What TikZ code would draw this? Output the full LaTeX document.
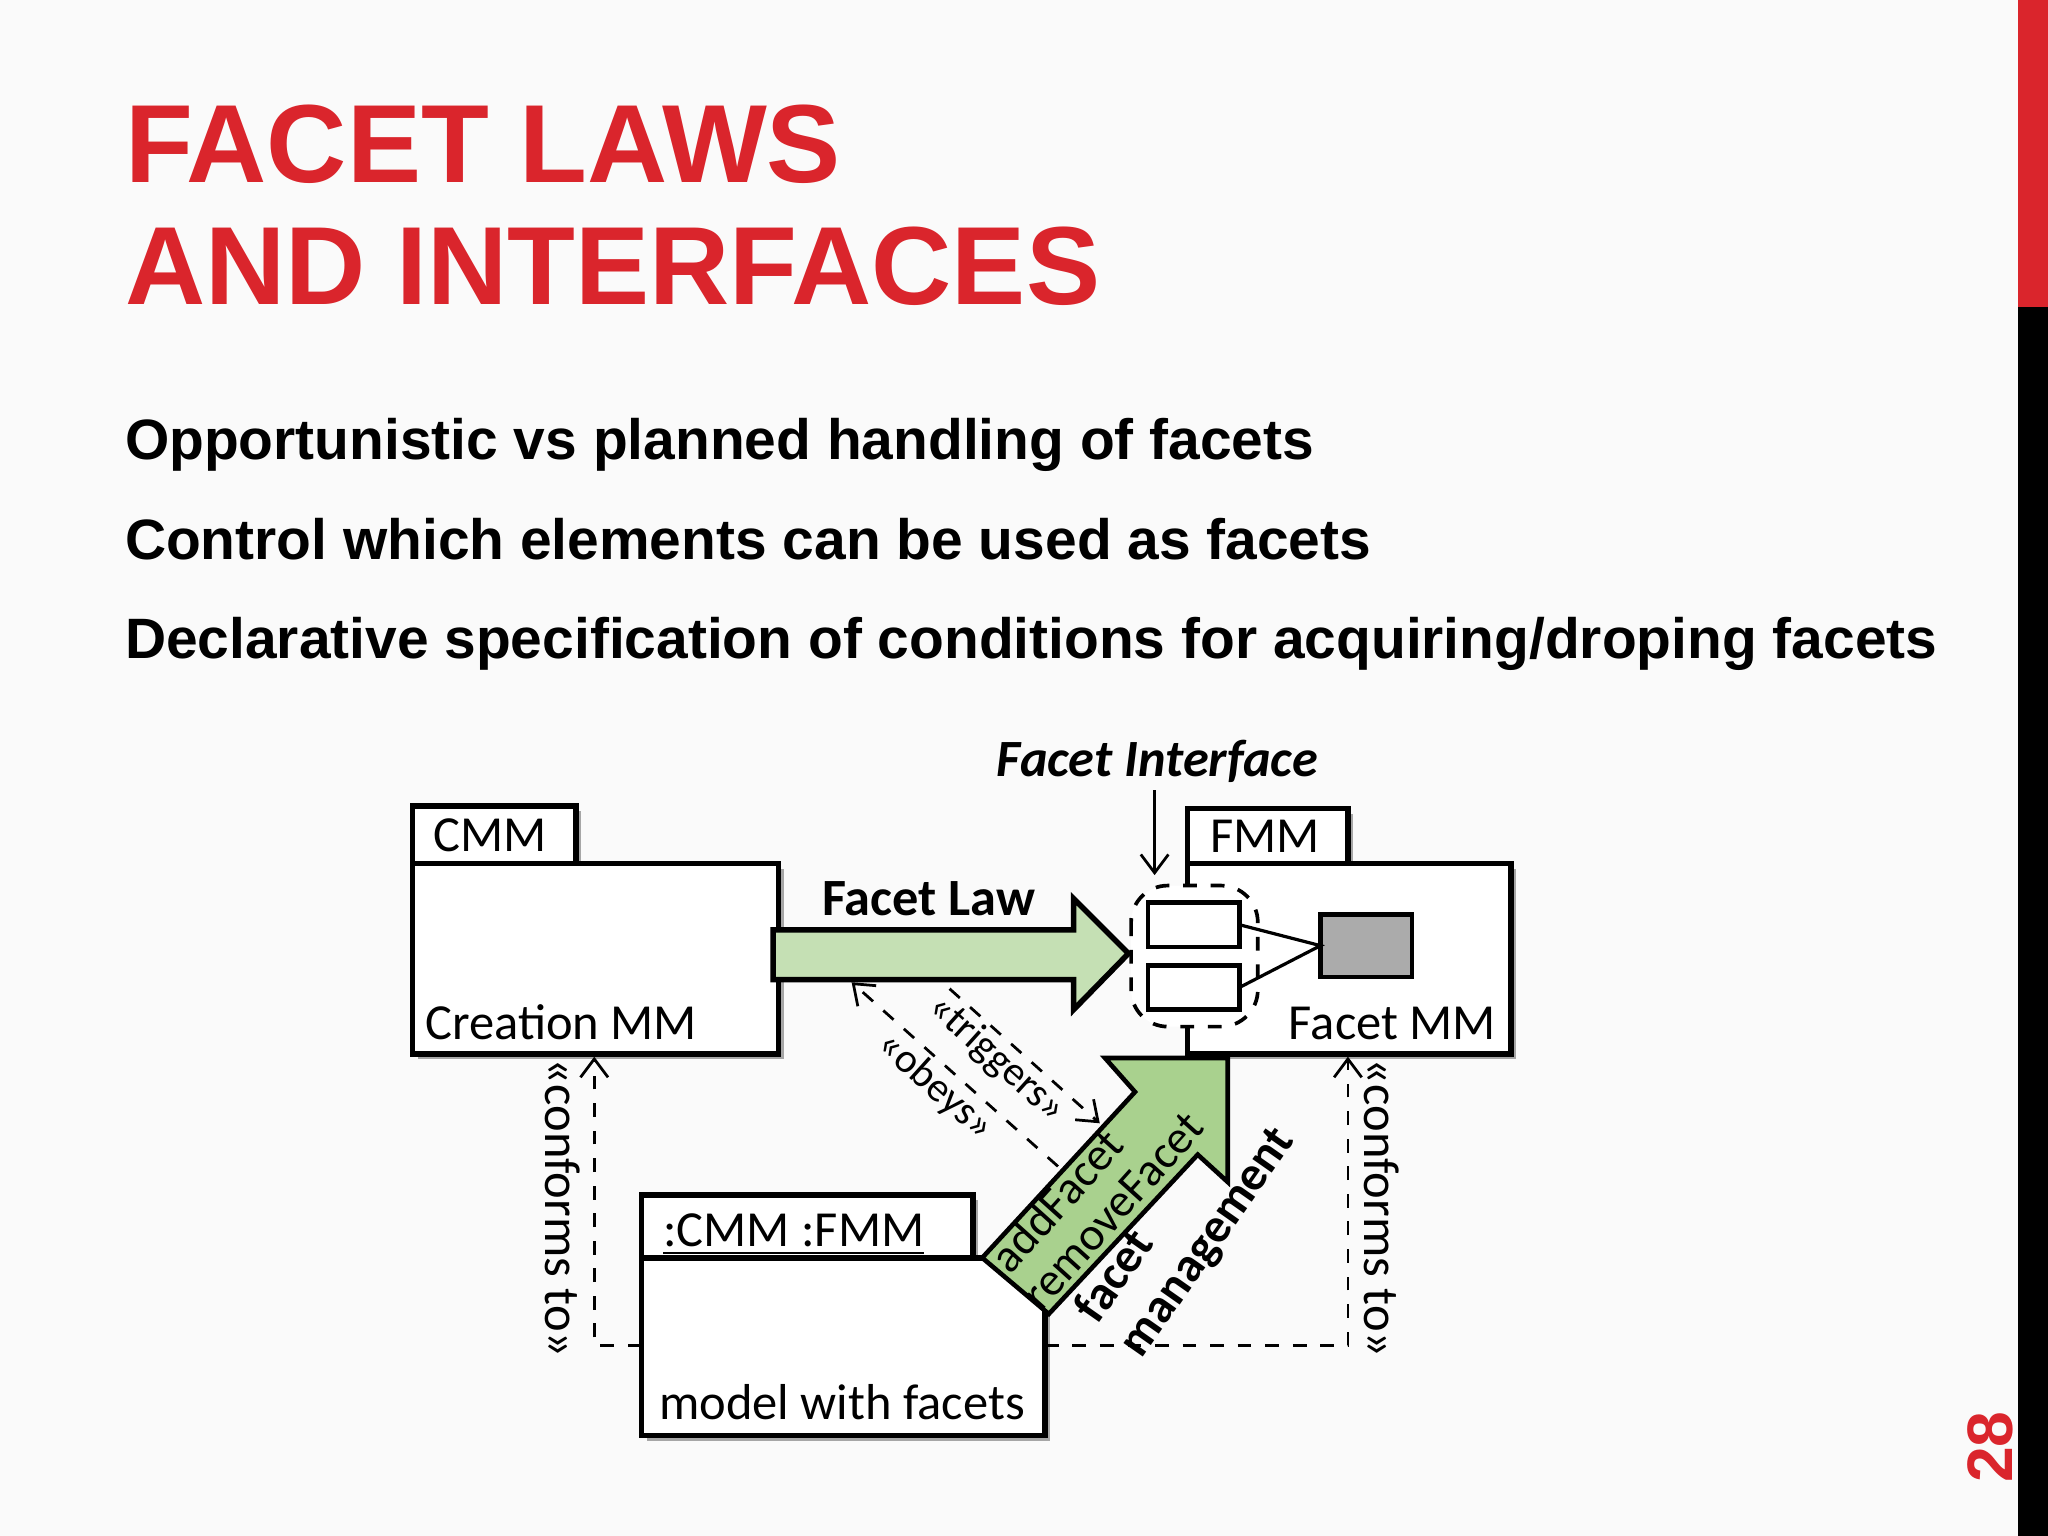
\documentclass[tikz,border=0pt]{standalone}
\usepackage{fontspec}
\setmainfont{Liberation Sans}
\newfontfamily\dia{Carlito}
\usetikzlibrary{arrows.meta}
\definecolor{tred}{RGB}{218,37,44}
\definecolor{lgreen}{RGB}{197,224,180}
\definecolor{dgreen}{RGB}{169,209,142}
\definecolor{bg}{RGB}{250,250,250}
\tikzset{
  box/.style={draw=black,line width=1.2pt,fill=white},
  shad/.style={fill=black!35,draw=none},
  dtxt/.style={font=\dia\fontsize{11pt}{13pt}\selectfont,inner sep=0pt},
  atxt/.style={font=\dia\fontsize{10.2pt}{12pt}\selectfont,inner sep=0pt},
  stxt/.style={font=\dia\fontsize{9pt}{11pt}\selectfont,inner sep=0pt},
  dline/.style={dashed,line width=0.6pt,-{Straight Barb[length=4pt,width=6pt]}},
  btxt/.style={font=\bfseries\fontsize{12.4pt}{15pt}\selectfont,inner sep=0pt,anchor=base west},
  ttxt/.style={text=tred,font=\bfseries\fontsize{24.2pt}{28pt}\selectfont,inner sep=0pt,anchor=base west},
}
\begin{document}
\begin{tikzpicture}[x=0.1mm,y=-0.1mm]
\fill[bg] (0,0) rectangle (1568,1176);
\useasboundingbox (0,0) rectangle (1568,1176);
\fill[tred] (1545,0) rectangle (1568,235);
\fill[black] (1545,235) rectangle (1568,1176);
\node[text=tred,rotate=90,font=\bfseries\fontsize{14pt}{16pt}\selectfont,inner sep=0pt] (pg) at (1524,1108) {28};
% title
\node[ttxt] (t1) at (95,140) {FACET LAWS};
\node[ttxt] (t2) at (95,233) {AND INTERFACES};
\node[btxt] (b1) at (95,352) {Opportunistic vs planned handling of facets};
\node[btxt] (b2) at (95,428) {Control which elements can be used as facets};
\node[btxt] (b3) at (95,504) {Declarative specification of conditions for acquiring/droping facets};
% CMM
\fill[shad] (320,665) rectangle (600,811);
\fill[shad] (320,621) rectangle (445,661);
\draw[box] (316,617) rectangle (441,661);
\draw[box] (316,661) rectangle (596,807);
\node[dtxt,anchor=base west] (cmm) at (331,652) {CMM};
\node[dtxt,anchor=base west] (cre) at (325,796) {Creation MM};
\coordinate (cmmb) at (455,809);
% FMM
\fill[shad] (913,665) rectangle (1161,811);
\fill[shad] (913,623) rectangle (1036,661);
\draw[box] (909,619) rectangle (1032,661);
\draw[box] (909,661) rectangle (1157,807);
\node[dtxt,anchor=base west] (fmm) at (926,653) {FMM};
\node[dtxt,anchor=base east] (fac) at (1146,796) {Facet MM};
\coordinate (fmmb) at (1032,809);
% interface
\draw[dashed,line width=0.8pt,fill=white,rounded corners=8pt] (866,678) rectangle (963,786);
\draw[line width=1pt,fill=white] (879,691) rectangle (949,725);
\draw[line width=1pt,fill=white] (879,739) rectangle (949,773);
\draw[line width=1pt,fill=black!33] (1011,700) rectangle (1081,748);
\draw[line width=0.7pt] (949,708) -- (1011,724) -- (949,756);
\node[font=\dia\bfseries\itshape\fontsize{11.4pt}{14pt}\selectfont,inner sep=0pt] (fi) at (886,583) {Facet Interface};
\draw[line width=0.6pt,-{Straight Barb[length=4pt,width=6pt]}] (884,605) -- (884,670);
% facet law arrow
\draw[line width=1.2pt,fill=lgreen] (592,712) -- (822,712) -- (822,688) -- (864,730) -- (822,773) -- (822,750) -- (592,750) -- cycle;
\node[font=\dia\bfseries\fontsize{11.4pt}{14pt}\selectfont,inner sep=0pt] (fl) at (711,688) {Facet Law};
% model
\fill[shad] (495,967) rectangle (804,1103);
\fill[shad] (495,919) rectangle (749,963);
\draw[box] (491,915) rectangle (745,963);
\draw[box] (491,963) rectangle (800,1099);
\node[dtxt,anchor=base west] (mt) at (507,954) {\underline{:CMM :FMM}};
\node[dtxt,anchor=base west] (mw) at (504,1087) {model with facets};
% management arrow
\draw[line width=1pt,fill=dgreen] (752,963) -- (869,836) -- (846,810) -- (940,810) -- (940,905) -- (917,884) -- (803,1006) -- cycle;
\node[atxt,rotate=48] (af) at (809,919) {addFacet};
\node[atxt,rotate=48] (rf) at (852,927) {removeFacet};
\node[font=\dia\bfseries\fontsize{10.6pt}{13pt}\selectfont,inner sep=0pt,rotate=55] (fm1) at (852,976) {facet};
\node[font=\dia\bfseries\fontsize{10.6pt}{13pt}\selectfont,inner sep=0pt,rotate=55] (fm2) at (926,952) {management};
% triggers / obeys
\coordinate (tr1) at (727,757); \coordinate (tr2) at (842,860);
\coordinate (ob1) at (810,893); \coordinate (ob2) at (652,752);
\draw[dline] (tr1) -- (tr2);
\draw[dline] (ob1) -- (ob2);
\node[stxt,rotate=-42] (trl) at (763,811) {«triggers»};
\node[stxt,rotate=-42] (obl) at (716,832) {«obeys»};
% conforms
\coordinate (ml) at (491,1030); \coordinate (mr) at (800,1030);
\draw[dline] (ml) -- (455,1030) -- (cmmb);
\draw[dline] (mr) -- (1032,1030) -- (fmmb);
\node[dtxt,rotate=-90] (c1) at (431,925) {«conforms to»};
\node[dtxt,rotate=-90] (c2) at (1058,925) {«conforms to»};
\end{tikzpicture}
\end{document}
